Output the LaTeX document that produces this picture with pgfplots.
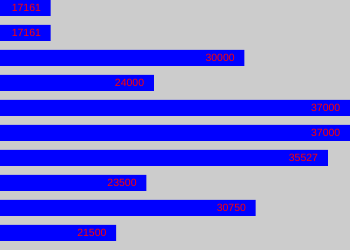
\documentclass[border=0pt]{standalone}
\usepackage{fontspec}
\setmainfont{Liberation Sans}
\usepackage{pgfplots}
\usepackage{pgfplotstable}
\pgfplotsset{compat=1.18}
\definecolor{bg}{HTML}{CCCCCC}
\pgfplotstableread{
i v l
0 17161 17161
1 17161 17161
2 30000 30000
3 24000 24000
4 37000 37000
5 37000 37000
6 35527 35527
7 23500 23500
8 30750 30750
9 21500 21500
}\datatable
\begin{document}
\begin{tikzpicture}
\begin{axis}[
  width=350bp, height=250bp, scale only axis,
  hide axis,
  axis background/.style={fill=bg},
  xmin=13800, xmax=37000,
  ymin=-0.32, ymax=9.68, y dir=reverse,
  xbar, bar width=0.64, bar shift=0pt,
  point meta=explicit symbolic,
  nodes near coords,
  every node near coord/.append style={anchor=east, xshift=-9.5bp, text=red, font=\fontsize{10.5bp}{12bp}\selectfont, inner sep=0pt},
]
\addplot[fill=blue, draw=none] table[x=v, y=i, meta=l] {\datatable};
\end{axis}
\end{tikzpicture}
\end{document}
